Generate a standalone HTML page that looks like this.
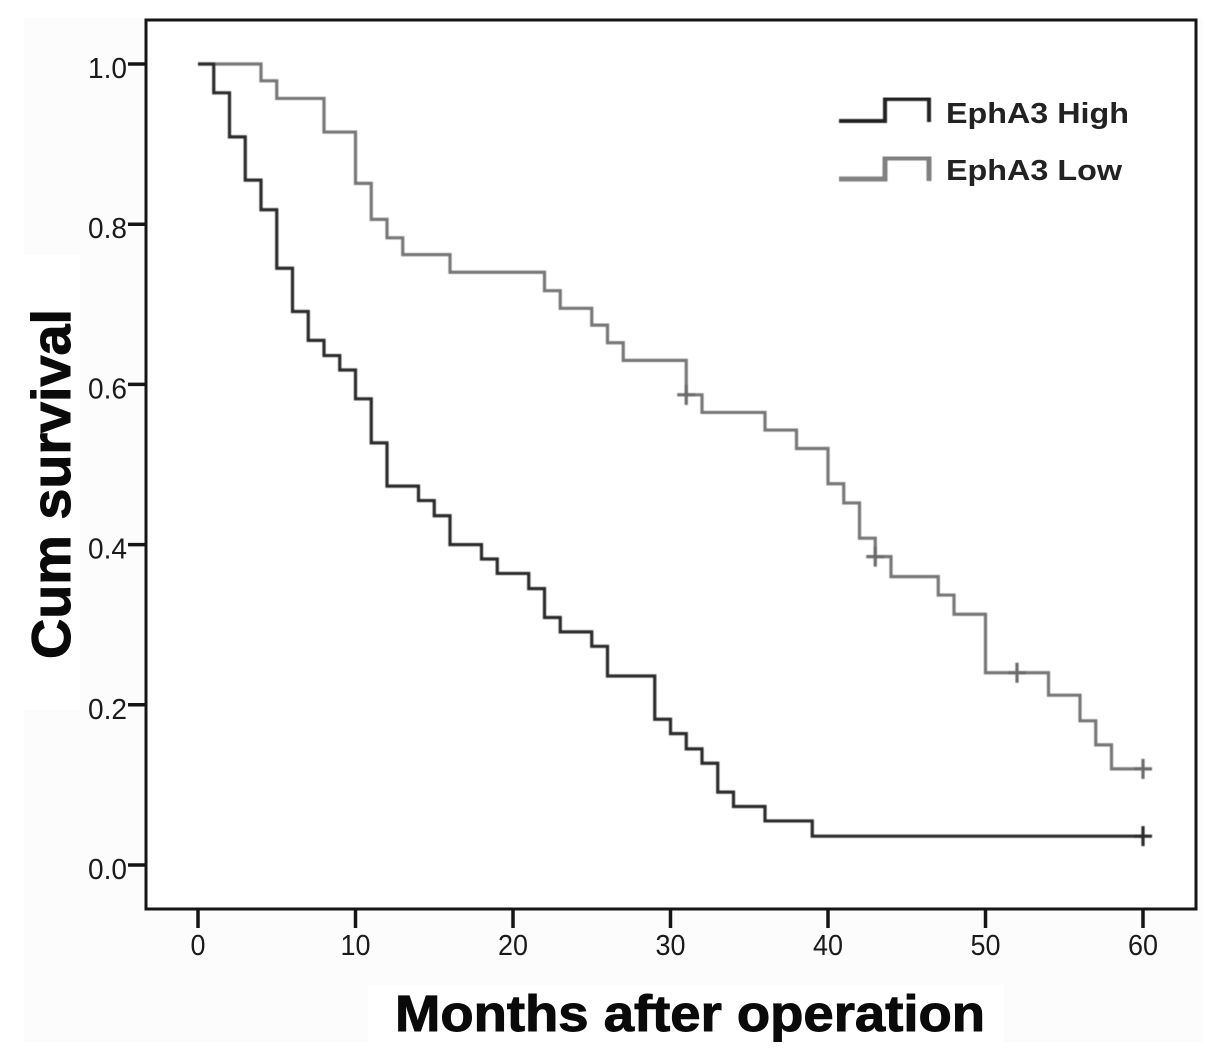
<!DOCTYPE html>
<html>
<head>
<meta charset="utf-8">
<style>
html,body{margin:0;padding:0;background:#fff;}
svg{display:block;font-family:"Liberation Sans",sans-serif;}
</style>
</head>
<body>
<svg id="chart" width="1228" height="1062" viewBox="0 0 1228 1062" xmlns="http://www.w3.org/2000/svg">
<defs><filter id="soft" x="-5%" y="-5%" width="110%" height="110%"><feGaussianBlur stdDeviation="0.6"/></filter></defs>
<rect x="0" y="0" width="1228" height="1062" fill="#ffffff"/>
<rect x="24" y="18" width="1179" height="1024" fill="#fcfcfc"/>
<rect x="24" y="255" width="56" height="455" fill="#ffffff"/>
<rect x="368" y="985" width="636" height="57" fill="#ffffff"/>
<rect x="146" y="20" width="1050" height="889" fill="#ffffff" stroke="#151515" stroke-width="3"/>
<g id="axes"></g>
<g id="series" filter="url(#soft)"></g>
<text transform="translate(70,484) rotate(-90)" text-anchor="middle" font-size="55" font-weight="bold" fill="#0a0a0a" stroke="#0a0a0a" stroke-width="1" textLength="350" lengthAdjust="spacingAndGlyphs">Cum survival</text>
<text x="690" y="1031" text-anchor="middle" font-size="51" font-weight="bold" fill="#0a0a0a" stroke="#0a0a0a" stroke-width="1" textLength="590" lengthAdjust="spacingAndGlyphs">Months after operation</text>
<g>
<path d="M839 121H885V99H929V122" fill="none" stroke="#222" stroke-width="4" filter="url(#soft)"/>
<text x="946" y="123" font-size="29" font-weight="bold" fill="#222" textLength="183" lengthAdjust="spacingAndGlyphs">EphA3 High</text>
<path d="M839 179H885V158H929V181" fill="none" stroke="#808080" stroke-width="5" filter="url(#soft)"/>
<text x="946" y="180" font-size="29" font-weight="bold" fill="#222" textLength="176" lengthAdjust="spacingAndGlyphs">EphA3 Low</text>
</g>
</svg>
<script>
var xTicks = [0, 10, 20, 30, 40, 50, 60];
var yTicks = [0.0, 0.2, 0.4, 0.6, 0.8, 1.0];
var highTimes = [0, 1, 2, 3, 4, 5, 6, 7, 8, 9, 10, 11, 12, 14, 15, 16, 18, 19, 21, 22, 23, 25, 26, 29, 30, 31, 32, 33, 34, 36, 39, 60];
var highSurvival = [1, 0.964, 0.909, 0.855, 0.818, 0.745, 0.691, 0.655, 0.636, 0.618, 0.582, 0.527, 0.473, 0.455, 0.436, 0.4, 0.382, 0.364, 0.345, 0.309, 0.291, 0.273, 0.236, 0.182, 0.164, 0.145, 0.127, 0.091, 0.073, 0.055, 0.036, 0.036];
var lowTimes = [0, 4, 5, 8, 10, 11, 12, 13, 16, 22, 23, 25, 26, 27, 31, 32, 36, 38, 40, 41, 42, 43, 44, 47, 48, 50, 54, 56, 57, 58, 60];
var lowSurvival = [1, 0.979, 0.957, 0.915, 0.851, 0.806, 0.783, 0.762, 0.74, 0.717, 0.695, 0.674, 0.652, 0.63, 0.587, 0.565, 0.543, 0.52, 0.476, 0.452, 0.408, 0.385, 0.36, 0.337, 0.313, 0.24, 0.212, 0.18, 0.15, 0.12, 0.12];
var highCensorTimes = [60];
var highCensorSurvival = [0.036];
var lowCensorTimes = [31, 43, 52, 60];
var lowCensorSurvival = [0.587, 0.385, 0.24, 0.12];

function xScale(t) { return 198 + t * 15.75; }
function yScale(s) { return 865 - s * 801; }

var NS = 'http://www.w3.org/2000/svg';
function make(tag, parent, attrs) {
  var el = document.createElementNS(NS, tag);
  for (var k in attrs) { el.setAttribute(k, attrs[k]); }
  parent.appendChild(el);
  return el;
}
var axes = document.getElementById('axes');
var series = document.getElementById('series');

xTicks.forEach(function (v) {
  var t = make('line', axes, {x1: xScale(v), x2: xScale(v), y1: 909, y2: 928, stroke: '#151515', 'stroke-width': 3.5});
  
  
  var s = String(v);
  var l = make('text', axes, {x: xScale(v), y: 955, 'text-anchor': 'middle', 'font-size': 29, fill: '#1a1a1a', textLength: s.length * 15, lengthAdjust: 'spacingAndGlyphs'});
  
  
  l.textContent = s;
});
yTicks.forEach(function (v) {
  var t = make('line', axes, {x1: 128, x2: 146, y1: yScale(v), y2: yScale(v), stroke: '#151515', 'stroke-width': 3.5});
  
  
  var l = make('text', axes, {x: 127, y: yScale(v) + 14, 'text-anchor': 'end', 'font-size': 29, fill: '#1a1a1a', textLength: 39, lengthAdjust: 'spacingAndGlyphs'});
  
  
  l.textContent = v.toFixed(1);
});

function stepPath(times, values) {
  var d = 'M' + xScale(times[0]) + ' ' + yScale(values[0]);
  for (var i = 1; i < times.length; i++) {
    d += 'H' + xScale(times[i]) + 'V' + yScale(values[i]);
  }
  return d;
}

var lowLine = make('path', series, {d: stepPath(lowTimes, lowSurvival), fill: 'none', stroke: '#777777', 'stroke-width': 3.2});


var highLine = make('path', series, {d: stepPath(highTimes, highSurvival), fill: 'none', stroke: '#2a2a2a', 'stroke-width': 3.2});



function censors(times, values, color, name) {
  times.forEach(function (t, i) {
    var x = xScale(t), y = yScale(values[i]);
    var m = make('path', series, {d: 'M' + (x - 9) + ' ' + y + 'H' + (x + 9) + 'M' + x + ' ' + (y - 10) + 'V' + (y + 10), fill: 'none', stroke: color, 'stroke-width': 3.2});
    
    
  });
}
censors(lowCensorTimes, lowCensorSurvival, '#6a6a6a', 'low-censor-mark');
censors(highCensorTimes, highCensorSurvival, '#2a2a2a', 'high-censor-mark');
</script>
</body>
</html>
